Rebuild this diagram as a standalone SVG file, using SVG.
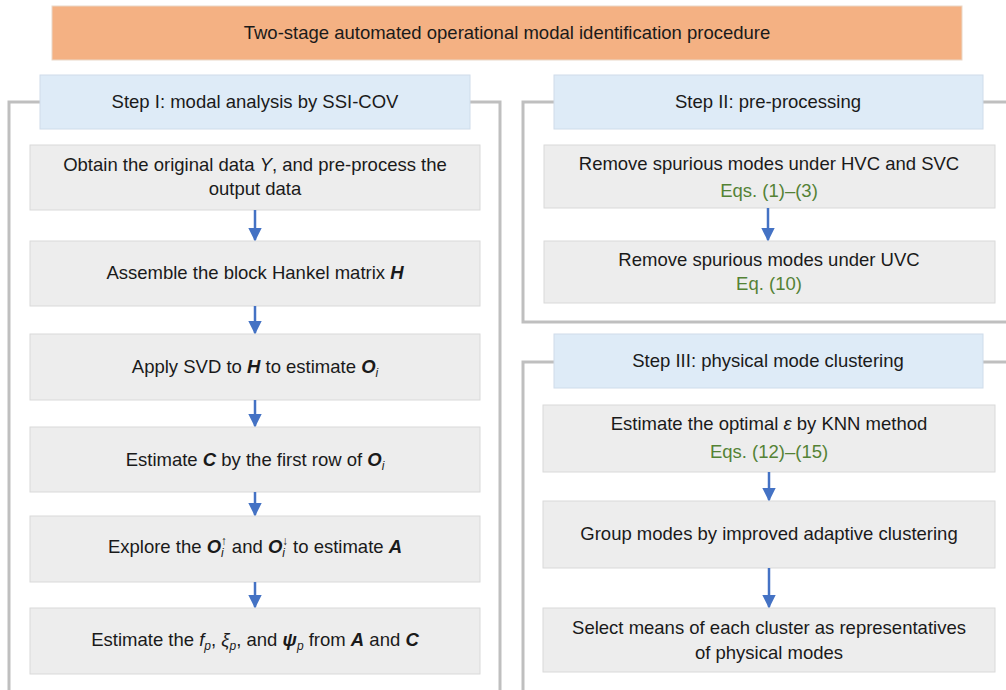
<svg xmlns="http://www.w3.org/2000/svg" width="1006" height="690" viewBox="0 0 1006 690">
<defs>
<style>
text{font-family:"Liberation Sans",Arial,sans-serif;font-size:18.5px;fill:#1a1a1a;text-anchor:middle}
.frame{fill:none;stroke:#bfbfbf;stroke-width:3}
.hdr{fill:#deebf7;stroke:#cfdcea;stroke-width:1}
.box{fill:#ededed;stroke:#d9d9d9;stroke-width:1}
.title{fill:#f4b183;stroke:#ead8c8;stroke-width:1}
.eq{fill:#548235}
.conn{stroke:#4472c4;stroke-width:2.5;fill:none;marker-end:url(#ah)}
.bi{font-weight:bold;font-style:italic}
.it{font-style:italic}
.sub{font-size:12px;font-style:italic}
</style>
<marker id="ah" viewBox="0 0 10 10" refX="9" refY="5" markerWidth="5.5" markerHeight="6" markerUnits="strokeWidth" orient="auto">
<path d="M0,0 L10,5 L0,10 z" fill="#4472c4"/>
</marker>
</defs>
<rect width="1006" height="690" fill="#ffffff"/>

<g id="title"><rect class="title" x="52" y="6" width="910" height="54"/><text x="507" y="39">Two-stage automated operational modal identification procedure</text></g>

<g id="frames">
<path class="frame" d="M40,102 H9 V690 M470,102 H500 V690"/>
<path class="frame" d="M554,102 H523 V322 H1006 M983,102 H1006"/>
<path class="frame" d="M554,362 H523 V690 M983,362 H1006"/>
</g>

<g id="step1-header"><rect class="hdr" x="40" y="75" width="430" height="54"/><text x="255" y="108">Step I: modal analysis by SSI-COV</text></g>
<g id="step2-header"><rect class="hdr" x="554" y="75" width="429" height="54"/><text x="768" y="108">Step II: pre-processing</text></g>
<g id="step3-header"><rect class="hdr" x="554" y="334" width="429" height="54"/><text x="768" y="367">Step III: physical mode clustering</text></g>

<g id="s1-b1"><rect class="box" x="30" y="145" width="450" height="65"/><text x="255" y="171">Obtain the original data <tspan class="it">Y</tspan>, and pre-process the</text><text x="255" y="195">output data</text></g>
<g id="s1-b2"><rect class="box" x="30" y="241" width="450" height="65"/><text x="255" y="279">Assemble the block Hankel matrix <tspan class="bi">H</tspan></text></g>
<g id="s1-b3"><rect class="box" x="30" y="334" width="450" height="66"/><text x="255" y="373">Apply SVD to <tspan class="bi">H</tspan> to estimate <tspan class="bi">O</tspan><tspan class="sub" dy="4">i</tspan></text></g>
<g id="s1-b4"><rect class="box" x="30" y="427" width="450" height="65"/><text x="255" y="466">Estimate <tspan class="bi">C</tspan> by the first row of <tspan class="bi">O</tspan><tspan class="sub" dy="4">i</tspan></text></g>
<g id="s1-b5"><rect class="box" x="30" y="516" width="450" height="66"/><text x="255" y="553">Explore the <tspan class="bi">O</tspan><tspan class="sub" dy="4">i</tspan><tspan class="sub" dx="-3" dy="-12">↑</tspan><tspan dy="8"> and </tspan><tspan class="bi">O</tspan><tspan class="sub" dy="4">i</tspan><tspan class="sub" dx="-3" dy="-12">↓</tspan><tspan dy="8"> to estimate </tspan><tspan class="bi">A</tspan></text></g>
<g id="s1-b6"><rect class="box" x="30" y="608" width="450" height="66"/><text x="255" y="646">Estimate the <tspan class="it">f</tspan><tspan class="sub" dy="4">p</tspan><tspan dy="-4">, </tspan><tspan class="it">ξ</tspan><tspan class="sub" dy="4">p</tspan><tspan dy="-4">, and </tspan><tspan class="bi">ψ</tspan><tspan class="sub" dy="4">p</tspan><tspan dy="-4"> from </tspan><tspan class="bi">A</tspan> and <tspan class="bi">C</tspan></text></g>

<g id="s2-b1"><rect class="box" x="544" y="145" width="451" height="63"/><text x="769" y="170">Remove spurious modes under HVC and SVC</text><text class="eq" x="769" y="197">Eqs. (1)–(3)</text></g>
<g id="s2-b2"><rect class="box" x="544" y="241" width="451" height="62"/><text x="769" y="266">Remove spurious modes under UVC</text><text class="eq" x="769" y="290">Eq. (10)</text></g>

<g id="s3-b1"><rect class="box" x="543" y="405" width="452" height="67"/><text x="769" y="430">Estimate the optimal <tspan class="it">ε</tspan> by KNN method</text><text class="eq" x="769" y="458">Eqs. (12)–(15)</text></g>
<g id="s3-b2"><rect class="box" x="543" y="501" width="452" height="67"/><text x="769" y="540">Group modes by improved adaptive clustering</text></g>
<g id="s3-b3"><rect class="box" x="543" y="608" width="452" height="64"/><text x="769" y="634">Select means of each cluster as representatives</text><text x="769" y="659">of physical modes</text></g>

<g id="connectors">
<line class="conn" x1="255" y1="210" x2="255" y2="240"/>
<line class="conn" x1="255" y1="306" x2="255" y2="333"/>
<line class="conn" x1="255" y1="400" x2="255" y2="426"/>
<line class="conn" x1="255" y1="492" x2="255" y2="515"/>
<line class="conn" x1="255" y1="582" x2="255" y2="607"/>
<line class="conn" x1="768" y1="208" x2="768" y2="240"/>
<line class="conn" x1="769" y1="472" x2="769" y2="500"/>
<line class="conn" x1="769" y1="568" x2="769" y2="607"/>
</g>
</svg>
